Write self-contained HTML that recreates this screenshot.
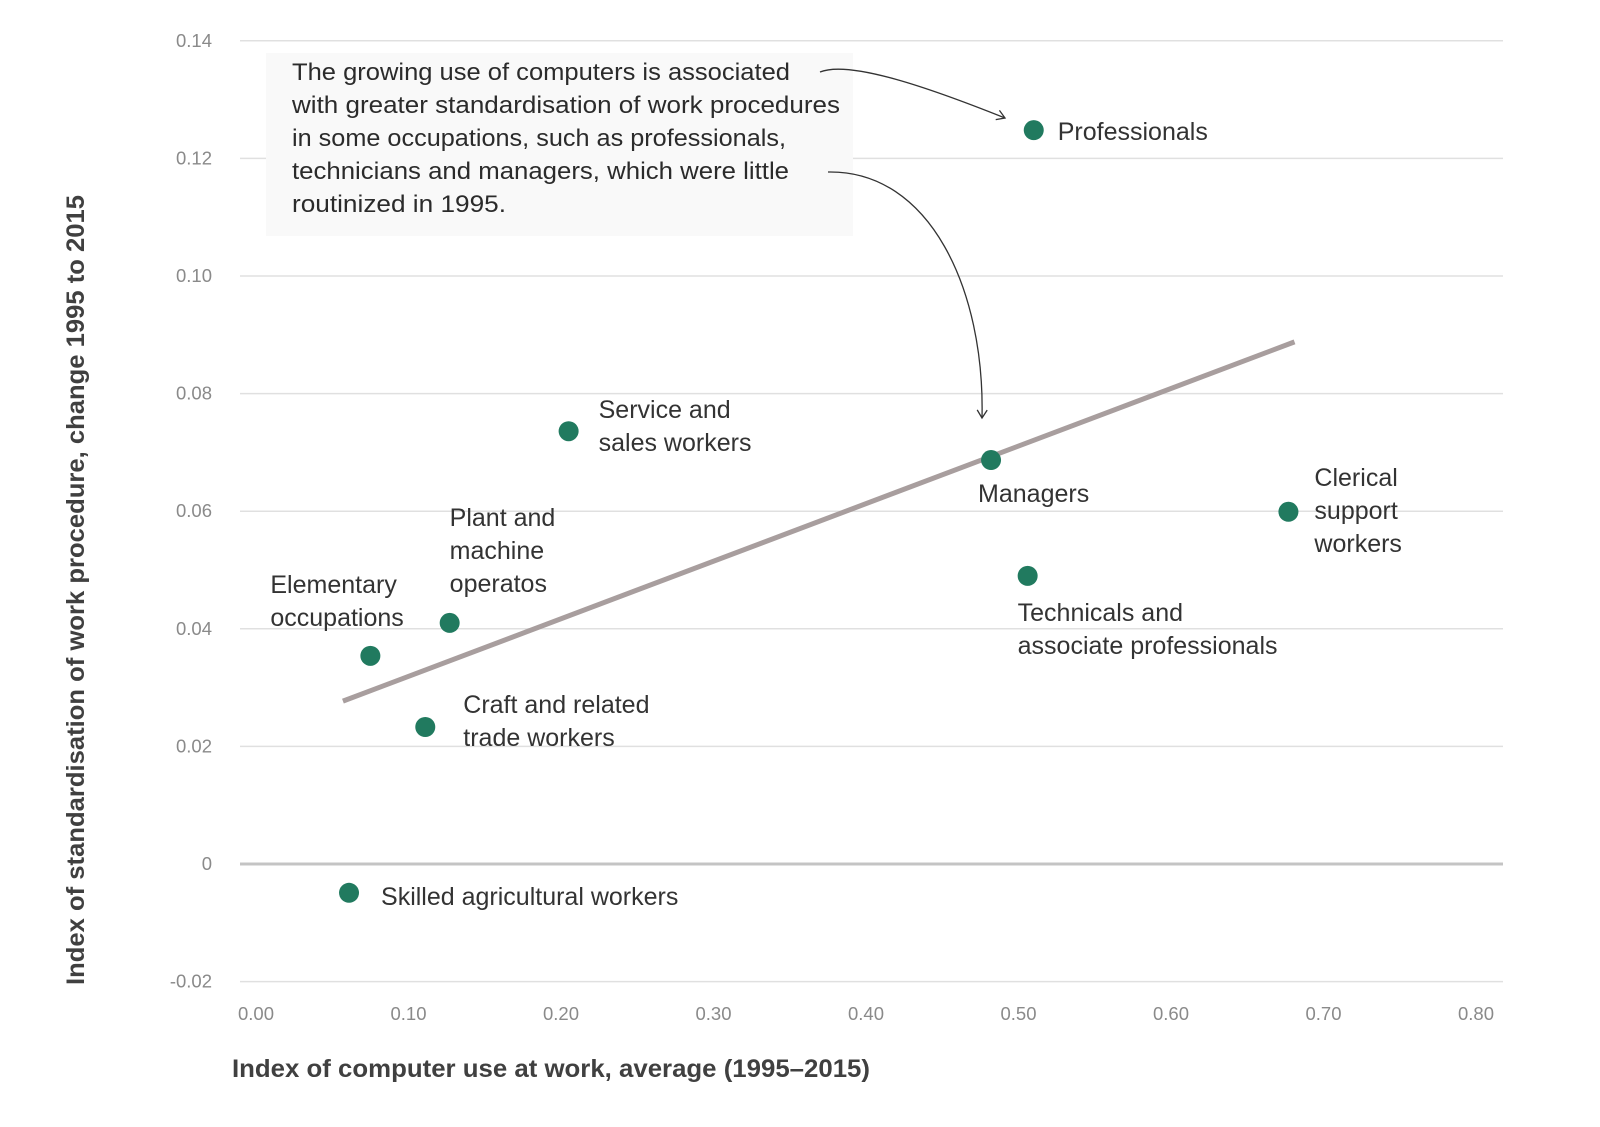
<!DOCTYPE html>
<html><head><meta charset="utf-8"><style>
body{margin:0;background:#fff;}
svg{display:block;font-family:"Liberation Sans",sans-serif;}
</style></head><body>
<svg id="chart" width="1600" height="1127" viewBox="0 0 1600 1127">
<defs><marker id="arr" markerWidth="12" markerHeight="12" refX="10" refY="6" orient="auto" markerUnits="userSpaceOnUse"><path d="M2,1 L10,6 L2,11" fill="none" stroke="#333" stroke-width="1.3"/></marker></defs>
<g id="grid"></g>
<g id="yticks"></g>
<g id="xticks"></g>
<g id="trend"></g>
<rect x="266" y="53" width="587" height="183" fill="#f9f9f9"/>
<g font-size="24.5" fill="#2b2b2b">
<text x="292" y="80" textLength="498" lengthAdjust="spacingAndGlyphs">The growing use of computers is associated</text>
<text x="292" y="113" textLength="548" lengthAdjust="spacingAndGlyphs">with greater standardisation of work procedures</text>
<text x="292" y="146" textLength="494" lengthAdjust="spacingAndGlyphs">in some occupations, such as professionals,</text>
<text x="292" y="179" textLength="497" lengthAdjust="spacingAndGlyphs">technicians and managers, which were little</text>
<text x="292" y="212" textLength="214" lengthAdjust="spacingAndGlyphs">routinized in 1995.</text>
</g>
<path d="M820,72 C850,60 930,88 1005,118" fill="none" stroke="#333" stroke-width="1.3" marker-end="url(#arr)"/>
<path d="M828,172 C930,170 985,290 982,418" fill="none" stroke="#333" stroke-width="1.3" marker-end="url(#arr)"/>
<g id="points"></g>
<text x="84" y="590" transform="rotate(-90 84 590)" text-anchor="middle" font-size="25" font-weight="bold" fill="#404040" textLength="790" lengthAdjust="spacingAndGlyphs">Index of standardisation of work procedure, change 1995 to 2015</text>
<text x="232" y="1077" font-size="25" font-weight="bold" fill="#404040" textLength="638" lengthAdjust="spacingAndGlyphs">Index of computer use at work, average (1995–2015)</text>
</svg>
<script>
const categories=["Professionals","Service and sales workers","Managers","Clerical support workers","Technicals and associate professionals","Plant and machine operatos","Elementary occupations","Craft and related trade workers","Skilled agricultural workers"];
const xValues=[0.510,0.205,0.482,0.677,0.506,0.127,0.075,0.111,0.061];
const yValues=[0.1248,0.0736,0.0687,0.0599,0.049,0.041,0.0354,0.0233,-0.0049];
const trendX=[0.057,0.681];
const trendY=[0.0277,0.0888];
const yTicks=[0.14,0.12,0.10,0.08,0.06,0.04,0.02,0,-0.02];
const yTickLabels=["0.14","0.12","0.10","0.08","0.06","0.04","0.02","0","-0.02"];
const xTicks=[0,0.1,0.2,0.3,0.4,0.5,0.6,0.7,0.8];
const xTickLabels=["0.00","0.10","0.20","0.30","0.40","0.50","0.60","0.70","0.80"];
const NS="http://www.w3.org/2000/svg";
const X=v=>256+v*1525;
const Y=v=>864-v*5880;
function mk(tag,attrs,parent,txt){const e=document.createElementNS(NS,tag);for(const k in attrs)e.setAttribute(k,attrs[k]);if(txt!==undefined)e.textContent=txt;parent.appendChild(e);return e;}
const grid=document.getElementById('grid'),yt=document.getElementById('yticks'),xt=document.getElementById('xticks');
yTicks.forEach((t,i)=>{
 const l=mk('line',{x1:240,x2:1503,y1:Y(t),y2:Y(t),stroke:t===0?'#c4c4c4':'#e0e0e0','stroke-width':t===0?3:1.5},grid);
 
 
 const tx=mk('text',{x:212,y:Y(t)+6,'text-anchor':'end','font-size':18.5,fill:'#8a8a8a'},yt,yTickLabels[i]);
 
 
});
xTicks.forEach((t,i)=>{
 const tx=mk('text',{x:X(t),y:1020,'text-anchor':'middle','font-size':18.5,fill:'#8a8a8a'},xt,xTickLabels[i]);
 
 
});
const tl=mk('line',{x1:X(trendX[0]),y1:Y(trendY[0]),x2:X(trendX[1]),y2:Y(trendY[1]),stroke:'#a89e9e','stroke-width':5},document.getElementById('trend'));


const labelLayout=[
 {dx:24,dy:10,lines:["Professionals"]},
 {dx:30,dy:-13,lines:["Service and","sales workers"]},
 {dx:-13,dy:42,lines:["Managers"]},
 {dx:26,dy:-26,lines:["Clerical","support","workers"]},
 {dx:-10,dy:45,lines:["Technicals and","associate professionals"]},
 {dx:0,dy:-97,lines:["Plant and","machine","operatos"]},
 {dx:-100,dy:-63,lines:["Elementary","occupations"]},
 {dx:38,dy:-14,lines:["Craft and related","trade workers"]},
 {dx:32,dy:12,lines:["Skilled agricultural workers"]}
];
const pts=document.getElementById('points');
categories.forEach((c,i)=>{
 const cx=X(xValues[i]),cy=Y(yValues[i]);
 const d=mk('circle',{cx:cx,cy:cy,r:10,fill:'#217a5f'},pts);
 
 
 const L=labelLayout[i];
 L.lines.forEach((s,j)=>{
  const t=mk('text',{x:cx+L.dx,y:cy+L.dy+j*33,'font-size':25,fill:'#333'},pts,s);
  
  
 });
});
</script>
</body></html>
